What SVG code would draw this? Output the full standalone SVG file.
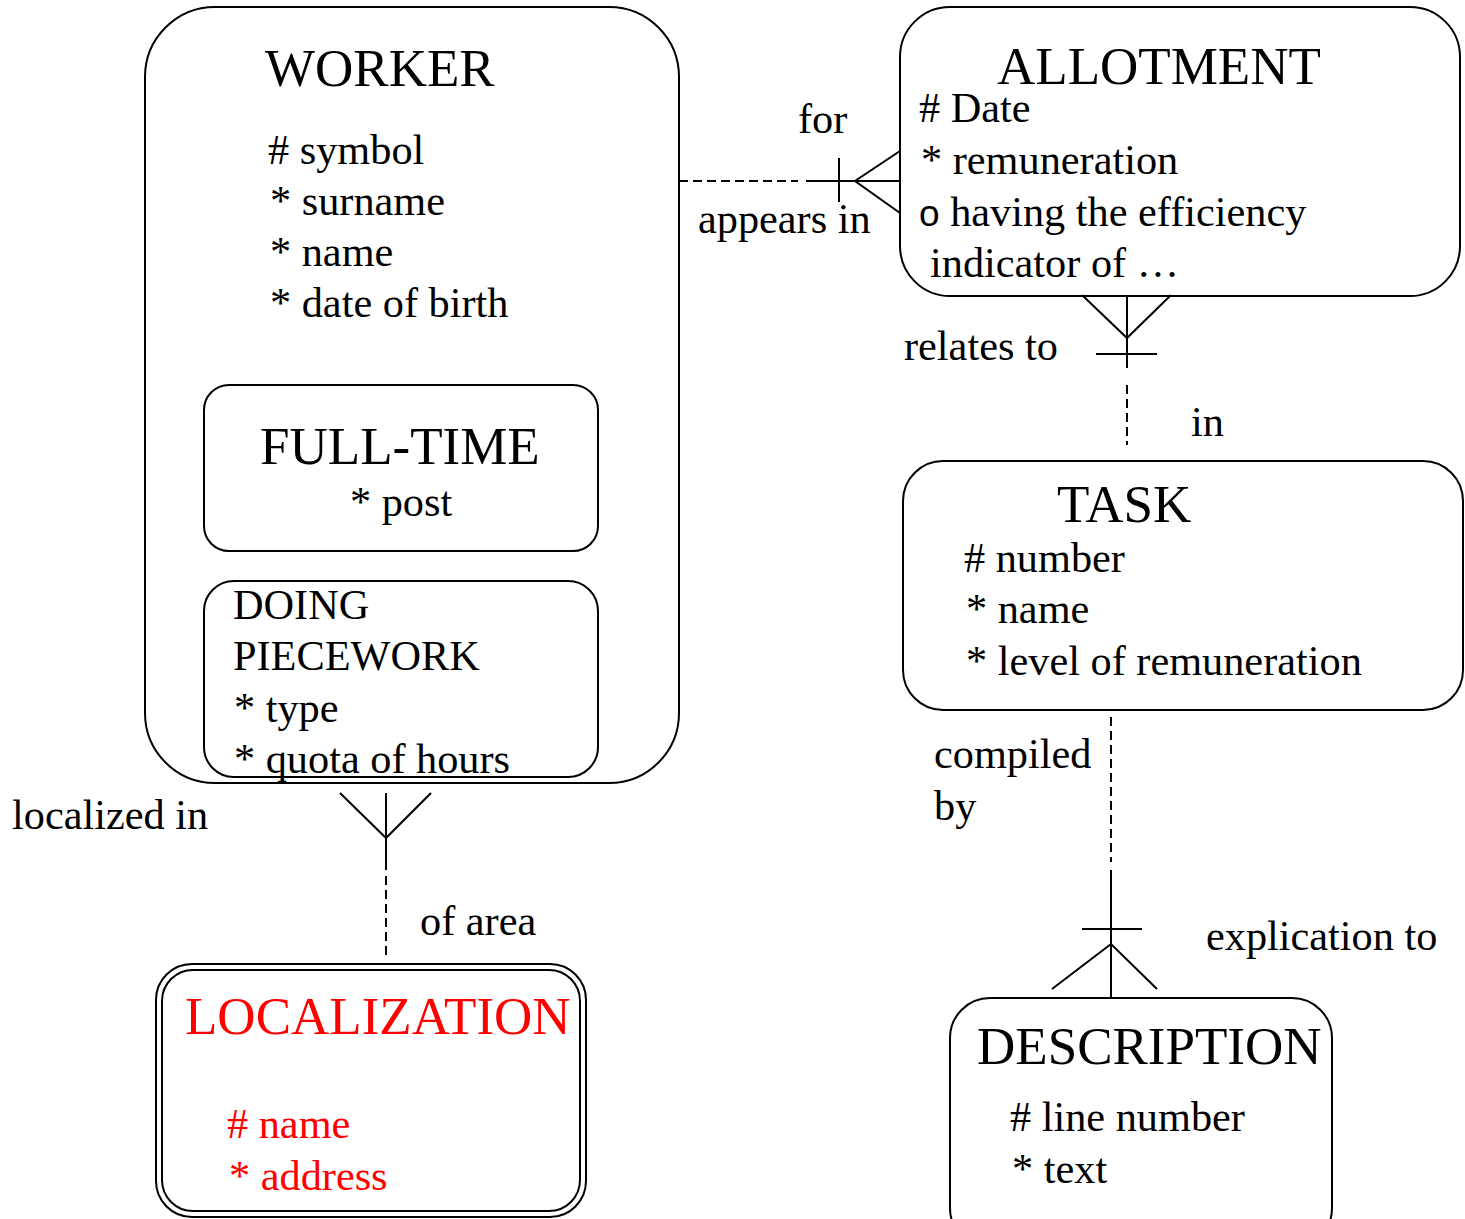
<svg xmlns="http://www.w3.org/2000/svg" width="1465" height="1219" viewBox="0 0 1465 1219">
<style>
.box{fill:none;stroke:#000;stroke-width:2}
.t{font-family:"Liberation Serif","Times New Roman",serif;fill:#000}
.h{font-size:53px}
.a{font-size:42.3px}
.red{fill:#ff0000}
.ln{stroke:#000;stroke-width:2;fill:none}
.ds{stroke:#000;stroke-width:2;fill:none;stroke-dasharray:9 5}
</style>
<rect width="1465" height="1219" fill="#fff"/>
<g id="worker">
<rect class="box" x="145" y="7" width="534" height="776" rx="70" ry="70"/>
<text class="t h" x="265" y="86">WORKER</text>
<text class="t a" x="268" y="164"># symbol</text>
<text class="t a" x="270" y="215">* surname</text>
<text class="t a" x="270" y="266">* name</text>
<text class="t a" x="270" y="317">* date of birth</text>
</g>
<g id="full-time">
<rect class="box" x="204" y="385" width="394" height="166" rx="25" ry="25"/>
<text class="t h" x="260" y="464">FULL-TIME</text>
<text class="t a" x="350" y="516">* post</text>
</g>
<g id="doing-piecework">
<rect class="box" x="204" y="581" width="394" height="196" rx="30" ry="30"/>
<text class="t a" x="233" y="619">DOING</text>
<text class="t a" x="233" y="670">PIECEWORK</text>
<text class="t a" x="234" y="722">* type</text>
<text class="t a" x="234" y="773">* quota of hours</text>
</g>
<g id="allotment">
<rect class="box" x="900" y="7" width="560" height="289" rx="50" ry="50"/>
<text class="t h" x="997" y="84">ALLOTMENT</text>
<text class="t a" x="919" y="122"># Date</text>
<text class="t a" x="921" y="174">* remuneration</text>
<text class="t a" x="919" y="226"><tspan font-family="Liberation Sans, Arial, sans-serif" font-size="37">o</tspan> having the efficiency</text>
<text class="t a" x="930" y="277">indicator of …</text>
</g>
<g id="task">
<rect class="box" x="903" y="461" width="560" height="249" rx="40" ry="40"/>
<text class="t h" x="1057" y="522">TASK</text>
<text class="t a" x="964" y="572"># number</text>
<text class="t a" x="966" y="623">* name</text>
<text class="t a" x="966" y="675">* level of remuneration</text>
</g>
<g id="description">
<rect class="box" x="950" y="998" width="382" height="250" rx="40" ry="40"/>
<text class="t h" x="977" y="1064">DESCRIPTION</text>
<text class="t a" x="1010" y="1131"># line number</text>
<text class="t a" x="1012" y="1183">* text</text>
</g>
<g id="localization">
<rect class="box" x="156" y="964" width="430" height="253" rx="36" ry="36"/>
<rect class="box" x="162" y="970" width="418" height="241" rx="31" ry="31"/>
<text class="t h red" x="185" y="1034">LOCALIZATION</text>
<text class="t a red" x="227" y="1138"># name</text>
<text class="t a red" x="229" y="1190">* address</text>
</g>
<g id="connectors">
<line class="ds" x1="679" y1="181" x2="798" y2="181"/>
<line class="ln" x1="806" y1="181" x2="900" y2="181"/>
<line class="ln" x1="839" y1="158" x2="839" y2="202"/>
<polyline class="ln" points="900,151 855,181 900,213"/>
<polyline class="ln" points="1082,295 1127,338 1171,295"/>
<line class="ln" x1="1127" y1="295" x2="1127" y2="368"/>
<line class="ln" x1="1096" y1="354" x2="1157" y2="354"/>
<line class="ds" x1="1127" y1="385" x2="1127" y2="445"/>
<polyline class="ln" points="340,793 386,838 431,793"/>
<line class="ln" x1="386" y1="793" x2="386" y2="870"/>
<line class="ds" x1="386" y1="876" x2="386" y2="960"/>
<line class="ds" x1="1111" y1="717" x2="1111" y2="862"/>
<line class="ln" x1="1111" y1="870" x2="1111" y2="997"/>
<line class="ln" x1="1082" y1="929" x2="1142" y2="929"/>
<polyline class="ln" points="1052,989 1111,944 1157,989"/>
</g>
<g id="labels">
<text class="t a" x="798" y="133">for</text>
<text class="t a" x="698" y="233">appears in</text>
<text class="t a" x="904" y="360">relates to</text>
<text class="t a" x="1191" y="436">in</text>
<text class="t a" x="934" y="768">compiled</text>
<text class="t a" x="934" y="820">by</text>
<text class="t a" x="1206" y="950">explication to</text>
<text class="t a" x="12" y="829">localized in</text>
<text class="t a" x="420" y="935">of area</text>
</g>
</svg>
